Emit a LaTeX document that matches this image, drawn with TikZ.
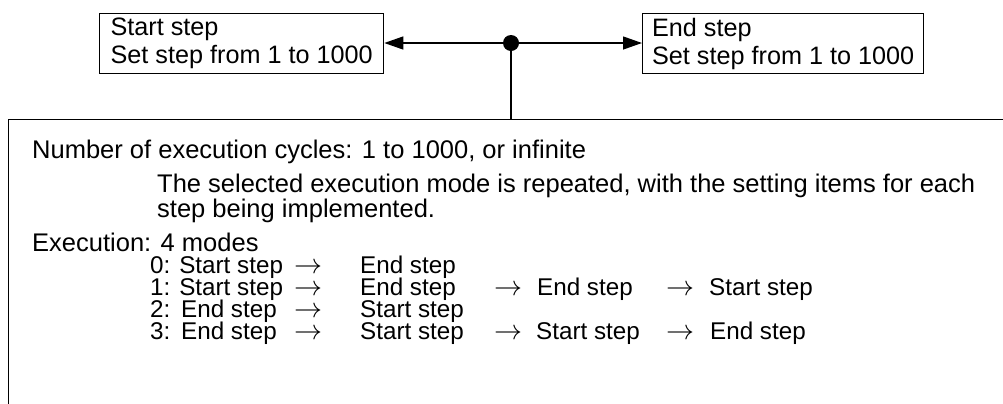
\documentclass[tikz,border=0pt]{standalone}
\usepackage{fontspec}
\setmainfont{Liberation Sans}
\usepackage{graphicx}
\usetikzlibrary{arrows.meta}
\newcommand{\myarrow}{\resizebox{28bp}{!}{$\rightarrow$}}
\begin{document}
\begin{tikzpicture}[x=1bp,y=-1bp,
  every node/.style={font=\fontsize{25.3}{28}\selectfont},
  txt/.style={anchor=base west,inner sep=0pt,font=\fontsize{25.6}{28}\selectfont},
  mtxt/.style={anchor=base west,inner sep=0pt,font=\fontsize{24.3}{28}\selectfont},
  arr/.style={anchor=base west,inner sep=0pt},
  stepbox/.style={draw,line width=1.3bp,anchor=north west,inner sep=0pt,minimum height=60bp,align=left},
  conn/.style={line width=1.3bp,-{Triangle[length=19bp,width=13bp]}},
  edge/.style={line width=1.3bp}]
\useasboundingbox (0,0) rectangle (1003,403);
\clip (0,0) rectangle (1003,403);
% top boxes
\node[stepbox,minimum width=284bp] (start) at (99,13) {Start step\\Set step from 1 to 1000};
\node[stepbox,minimum width=281bp] (end) at (642,13) {End step\\Set step from 1 to 1000};
% junction
\node[circle,fill,inner sep=0pt,minimum size=16bp] (dot) at (511,43) {};
\draw[conn] (dot) -- (start.east |- dot);
\draw[conn] (dot) -- (end.west |- dot);
% big box
\node[draw,line width=1.3bp,anchor=north west,minimum width=1050bp,minimum height=320bp,inner sep=0pt] (main) at (8,119) {};
\draw[edge] (dot.center) -- (dot.center |- main.north);
% texts
\node[txt] (n1) at (32,158) {Number of execution cycles: 1 to 1000, or infinite};
\node[txt] (n2) at (157,192) {The selected execution mode is repeated, with the setting items for each};
\node[txt] (n3) at (157,217) {step being implemented.};
\node[txt] (n4) at (32,251) {Execution: 4 modes};
% mode 0
\node[mtxt] (a0) at (150,273) {0: Start step};
\node[arr] (a0r) at (294,273) {\myarrow};
\node[mtxt] (a0b) at (360,273) {End step};
% mode 1
\node[mtxt] (a1) at (150,295) {1: Start step};
\node[arr] (a1r) at (294,295) {\myarrow};
\node[mtxt] (a1b) at (360,295) {End step};
\node[arr] (a1s) at (494,295) {\myarrow};
\node[mtxt] (a1c) at (537,295) {End step};
\node[arr] (a1t) at (666,295) {\myarrow};
\node[mtxt] (a1d) at (709,295) {Start step};
% mode 2
\node[mtxt] (a2) at (150,317) {2:};
\node[mtxt] (a2a) at (181,317) {End step};
\node[arr] (a2r) at (294,317) {\myarrow};
\node[mtxt] (a2b) at (360,317) {Start step};
% mode 3
\node[mtxt] (a3) at (150,339) {3:};
\node[mtxt] (a3a) at (181,339) {End step};
\node[arr] (a3r) at (294,339) {\myarrow};
\node[mtxt] (a3b) at (360,339) {Start step};
\node[arr] (a3s) at (494,339) {\myarrow};
\node[mtxt] (a3c) at (536,339) {Start step};
\node[arr] (a3t) at (666,339) {\myarrow};
\node[mtxt] (a3d) at (710,339) {End step};
\end{tikzpicture}
\end{document}
